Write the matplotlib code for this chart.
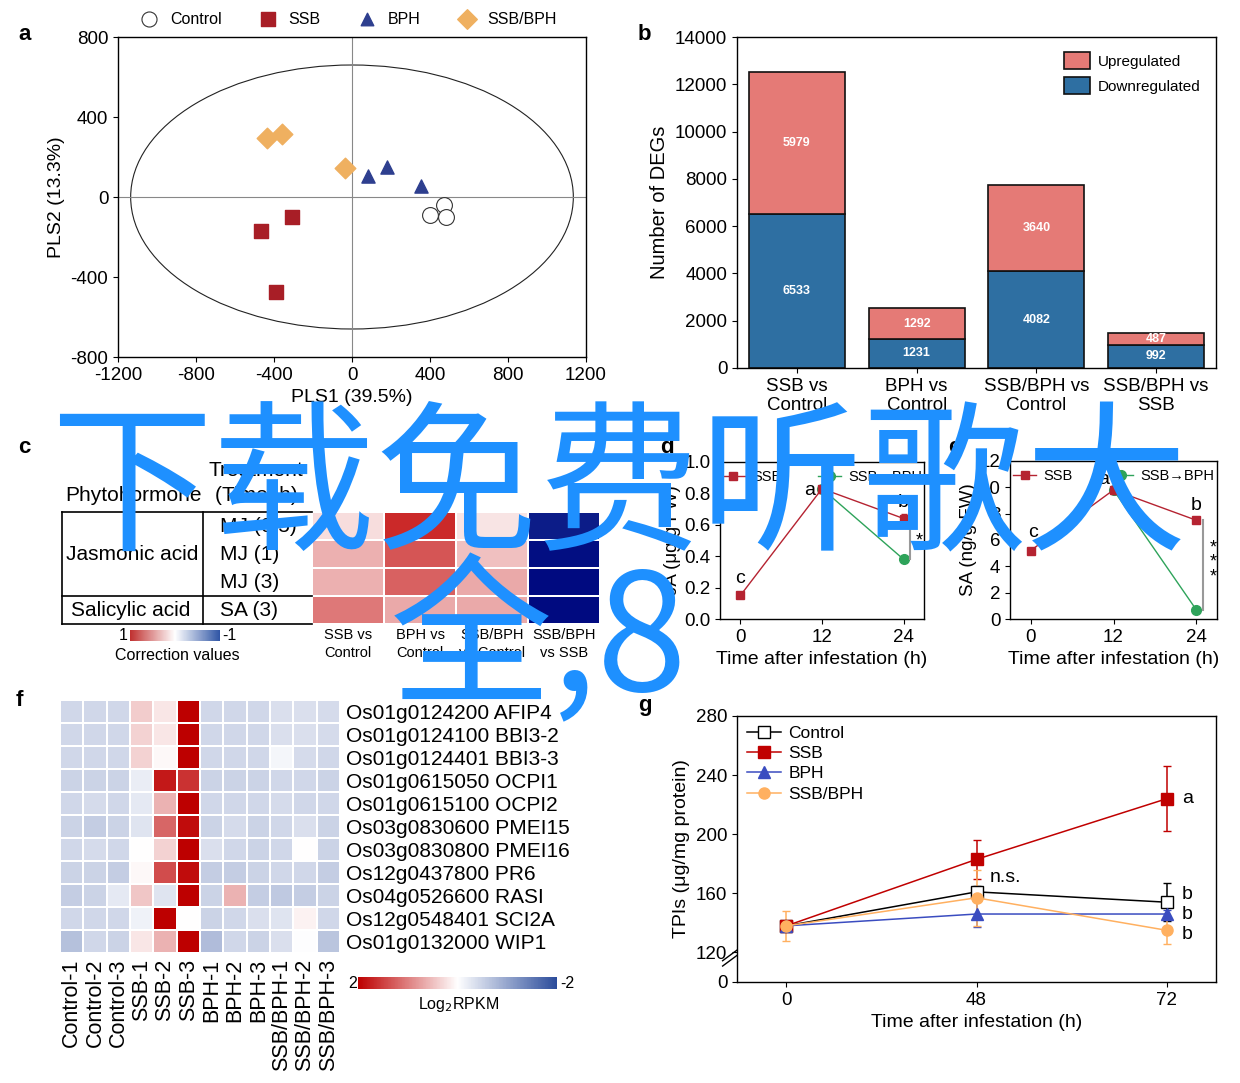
import numpy as np
import matplotlib
matplotlib.use("Agg")
import matplotlib.pyplot as plt
from matplotlib.colors import LinearSegmentedColormap, Normalize
from matplotlib.cm import ScalarMappable
from matplotlib.patches import Ellipse
from matplotlib.lines import Line2D

plt.rcParams['font.family'] = ['Liberation Sans', 'DejaVu Sans']
plt.rcParams['axes.linewidth'] = 1.0
plt.rcParams['axes.unicode_minus'] = False

W, H = 1240, 1083

# ---------------- data ----------------
# a: PLS scores
ctrl_x, ctrl_y = [472, 400, 482], [-40, -90, -100]
ssb_x, ssb_y = [-308, -467, -390], [-100, -170, -475]
bph_x, bph_y = [82, 180, 354], [105, 150, 55]
sb_x, sb_y = [-436, -359, -36], [295, 315, 145]
ell_w, ell_h = 2270, 1320

# b: DEGs
comparisons = ["SSB vs\nControl", "BPH vs\nControl", "SSB/BPH vs\nControl", "SSB/BPH vs\nSSB"]
deg_down = [6533, 1231, 4082, 992]
deg_up = [5979, 1292, 3640, 487]

# c: phytohormone correction values
c_cols = ["SSB vs\nControl", "BPH vs\nControl", "SSB/BPH\nvs Control", "SSB/BPH\nvs SSB"]
c_rows = ["MJ (0.5)", "MJ (1)", "MJ (3)", "SA (3)"]
c_vals = [[0.15, 0.95, 0.12, -0.92],
          [0.35, 0.75, 0.28, -0.98],
          [0.35, 0.70, 0.38, -1.00],
          [0.60, 0.38, 0.38, -1.00]]

# d, e: JA and SA
t_h = [0, 12, 24]
t_h2 = [12, 24]
ja_ssb = [0.15, 0.83, 0.64]
ja_ssb_err = [0, 0, 0.03]
ja_ssbbph = [0.83, 0.38]
sa_ssb = [5.2, 9.8, 7.5]
sa_ssb_err = [0, 0.3, 0]
sa_ssbbph = [9.8, 0.7]

# f: heatmap
samples = ["Control-1", "Control-2", "Control-3", "SSB-1", "SSB-2", "SSB-3",
           "BPH-1", "BPH-2", "BPH-3", "SSB/BPH-1", "SSB/BPH-2", "SSB/BPH-3"]
genes = ["Os01g0124200 AFIP4", "Os01g0124100 BBI3-2", "Os01g0124401 BBI3-3",
         "Os01g0615050 OCPI1", "Os01g0615100 OCPI2", "Os03g0830600 PMEI15",
         "Os03g0830800 PMEI16", "Os12g0437800 PR6", "Os04g0526600 RASI",
         "Os12g0548401 SCI2A", "Os01g0132000 WIP1"]
rpkm = [[-0.45, -0.45, -0.45, 0.40, 0.20, 2.0, -0.45, -0.45, -0.45, -0.35, -0.35, -0.40],
        [-0.45, -0.45, -0.45, 0.35, 0.20, 2.0, -0.45, -0.45, -0.45, -0.35, -0.35, -0.40],
        [-0.45, -0.45, -0.45, 0.35, 0.05, 2.0, -0.45, -0.45, -0.45, -0.10, -0.40, -0.45],
        [-0.50, -0.50, -0.50, -0.20, 1.80, 1.6, -0.50, -0.50, -0.50, -0.45, -0.45, -0.50],
        [-0.45, -0.40, -0.45, -0.25, 0.60, 2.0, -0.45, -0.45, -0.45, -0.40, -0.45, -0.45],
        [-0.50, -0.55, -0.50, -0.30, 1.20, 1.9, -0.50, -0.40, -0.50, -0.45, -0.35, -0.50],
        [-0.45, -0.40, -0.45, 0.00, 0.35, 2.0, -0.35, -0.45, -0.50, -0.45, 0.00, -0.50],
        [-0.50, -0.50, -0.55, 0.05, 1.40, 1.9, -0.55, -0.55, -0.50, -0.45, -0.45, -0.55],
        [-0.55, -0.50, -0.25, 0.45, -0.30, 2.0, -0.50, 0.60, -0.55, -0.60, -0.55, -0.50],
        [-0.45, -0.45, -0.45, -0.15, 2.00, 0.0, -0.50, -0.45, -0.35, -0.30, 0.10, -0.45],
        [-0.70, -0.45, -0.50, 0.20, 0.60, 2.0, -0.75, -0.45, -0.50, -0.35, -0.02, -0.65]]

# g: TPIs
g_ticks = ["0", "48", "72"]
tpi_ctrl, tpi_ctrl_err = [138, 161, 154], [0, 4, 13]
tpi_ssb, tpi_ssb_err = [138, 183, 224], [0, 13, 22]
tpi_bph, tpi_bph_err = [138, 146, 146], [0, 9, 3]
tpi_sb, tpi_sb_err = [138, 157, 135], [10, 19, 9]

# ---------------- layout helpers ----------------
fig = plt.figure(figsize=(W / 100, H / 100), dpi=100)


def ax_px(l, t, r, b):
    return fig.add_axes([l / W, 1 - b / H, (r - l) / W, (b - t) / H])


def ftext(x, y, s, **kw):
    fig.text(x / W, 1 - y / H, s, **kw)


for lab, (x, y) in zip("abcdefg", [(18, 35), (638, 35), (18, 447), (660, 447),
                                    (948, 447), (16, 700), (638, 706)]):
    ftext(x, y, lab, fontsize=16, fontweight='bold', va='center')

# ---------------- a ----------------
ax = ax_px(118, 37, 586, 357)
ax.axhline(0, color='#888888', lw=0.8)
ax.axvline(0, color='#888888', lw=0.8)
ax.add_patch(Ellipse((0, 0), ell_w, ell_h, fill=False, ec='#222222', lw=0.8))
h1 = ax.scatter(ctrl_x, ctrl_y, s=130, marker='o', facecolor='white', edgecolor='#333333', lw=0.8, zorder=3)
h2 = ax.scatter(ssb_x, ssb_y, s=110, marker='s', color='#A81E26', zorder=3)
h3 = ax.scatter(bph_x, bph_y, s=90, marker='^', color='#2E3F8F', zorder=3)
h4 = ax.scatter(sb_x, sb_y, s=110, marker='D', color='#EFB060', zorder=3)
ax.set_xlim(-1200, 1200)
ax.set_ylim(-800, 800)
ax.set_xticks([-1200, -800, -400, 0, 400, 800, 1200])
ax.set_yticks([-800, -400, 0, 400, 800])
ax.tick_params(labelsize=13.5, direction='out')
ax.set_xlabel("PLS1 (39.5%)", fontsize=14)
ax.set_ylabel("PLS2 (13.3%)", fontsize=14)
fig.legend([h1, h2, h3, h4], ["Control", "SSB", "BPH", "SSB/BPH"], loc='center',
           bbox_to_anchor=(345 / W, 1 - 19 / H), ncol=4, frameon=False, fontsize=11.5,
           handletextpad=0.3, columnspacing=1.9, markerscale=0.95)

# ---------------- b ----------------
ax = ax_px(737, 37, 1216, 368)
xb = np.arange(len(comparisons))
bd = ax.bar(xb, deg_down, width=0.8, color='#2E6FA2', edgecolor='#111111', lw=1.2, label='Downregulated')
bu = ax.bar(xb, deg_up, bottom=deg_down, width=0.8, color='#E57A76', edgecolor='#111111', lw=1.2, label='Upregulated')
for i in range(len(xb)):
    ax.text(xb[i], deg_down[i] / 2, str(deg_down[i]), color='white', fontsize=9, fontweight='bold', ha='center', va='center')
    ax.text(xb[i], deg_down[i] + deg_up[i] / 2, str(deg_up[i]), color='white', fontsize=9, fontweight='bold', ha='center', va='center')
ax.set_xlim(-0.5, 3.5)
ax.set_ylim(0, 14000)
ax.set_yticks(range(0, 14001, 2000))
ax.set_xticks(xb)
ax.set_xticklabels(comparisons)
ax.tick_params(labelsize=13.5)
ax.set_ylabel("Number of DEGs", fontsize=14.5)
ax.legend([bu, bd], ["Upregulated", "Downregulated"], loc='upper right', frameon=False,
          fontsize=11, handlelength=1.7, handleheight=1.3, labelspacing=0.55,
          borderaxespad=0.6, handletextpad=0.5)

# ---------------- c ----------------
c_cmap = LinearSegmentedColormap.from_list('c', [(0, '#000A80'), (0.15, '#2F4FA0'), (0.5, '#FFFFFF'), (1, '#C81E1E')])
ax = ax_px(312, 512, 600, 624)
ax.pcolormesh(np.array(c_vals), cmap=c_cmap, vmin=-1, vmax=1, edgecolors='white', linewidth=1.2)
ax.set_ylim(4, 0)
ax.set_xlim(0, 4)
ax.set_xticks(np.arange(4) + 0.5)
ax.set_xticklabels(c_cols, fontsize=10.5, linespacing=1.35)
ax.set_yticks([])
ax.tick_params(length=0, pad=3)
for s in ax.spines.values():
    s.set_visible(False)

tb = ax_px(62, 512, 312, 624)
tb.set_xlim(0, 250)
tb.set_ylim(4, 0)
tb.axis('off')
tb.plot([0, 250], [0, 0], color='black', lw=1.2, clip_on=False)
tb.plot([0, 250], [3, 3], color='black', lw=1.2, clip_on=False)
tb.plot([0, 250], [4, 4], color='black', lw=1.2, clip_on=False)
tb.plot([0, 0], [0, 4], color='black', lw=1.2, clip_on=False)
tb.plot([141, 141], [0, 4], color='black', lw=1.2, clip_on=False)
tb.text(70, 1.5, "Jasmonic acid", fontsize=15, ha='center', va='center')
tb.text(69, 3.5, "Salicylic acid", fontsize=15, ha='center', va='center')
for i, r in enumerate(c_rows):
    tb.text(158, i + 0.5, r, fontsize=15, ha='left', va='center')
ftext(65, 495, "Phytohormone", fontsize=15, ha='left', va='center')
ftext(256, 470, "Treatment", fontsize=15, ha='center', va='center')
ftext(256, 495, "(Time, h)", fontsize=15, ha='center', va='center')

cax = ax_px(130, 630, 220, 641)
cb = fig.colorbar(ScalarMappable(Normalize(-1, 1), LinearSegmentedColormap.from_list('cb', ['#2F55A5', '#FFFFFF', '#C0302F'])),
                  cax=cax, orientation='horizontal')
cax.invert_xaxis()
cb.set_ticks([])
cb.outline.set_visible(False)
ftext(123, 635, "1", fontsize=11.5, ha='center', va='center')
ftext(229, 635, "-1", fontsize=11.5, ha='center', va='center')
ftext(177, 656, "Correction values", fontsize=11.5, ha='center', va='center')

# ---------------- d ----------------
RED, GREEN = '#B52331', '#2EA35A'


def time_panel(ax, y1, y1e, y2, ylim, yticks, fmt, ylabel):
    ax.errorbar(t_h, y1, yerr=y1e, color=RED, marker='s', ms=6, lw=1, capsize=2.5, zorder=3)
    ax.plot(t_h2, y2, color=GREEN, marker='o', ms=7, lw=1, zorder=2)
    ax.set_xlim(-3, 27)
    ax.set_ylim(*ylim)
    ax.set_xticks(t_h)
    ax.set_yticks(yticks)
    ax.set_yticklabels([fmt.format(v) for v in yticks])
    ax.tick_params(labelsize=13.5)
    ax.set_xlabel("Time after infestation (h)", fontsize=14)
    ax.set_ylabel(ylabel, fontsize=13.5, labelpad=2)
    hs = [Line2D([], [], color=RED, marker='s', ms=6, lw=1),
          Line2D([], [], color=GREEN, marker='o', ms=7, lw=1)]
    ax.legend(hs, ['SSB', 'SSB\u2192BPH'], loc='upper center', bbox_to_anchor=(0.5, 1.03), ncol=2,
              frameon=False, fontsize=10.5, handlelength=1.6, columnspacing=2.5, handletextpad=0.5)


ax = ax_px(720, 462, 924, 619)
time_panel(ax, ja_ssb, ja_ssb_err, ja_ssbbph, (0, 1.0), [0, 0.2, 0.4, 0.6, 0.8, 1.0], "{:.1f}", "JA (\u03bcg/g FW)")
ax.plot([25, 25], [ja_ssbbph[1], ja_ssb[2]], color='#999999', lw=1.5)
ax.text(25.8, 0.5, "*", fontsize=13, ha='left', va='center')
ax.text(0, 0.26, "c", fontsize=14, ha='center', va='center')
ax.text(10.2, 0.82, "a", fontsize=14, ha='center', va='center')
ax.text(24, 0.74, "b", fontsize=14, ha='center', va='center')

# ---------------- e ----------------
ax = ax_px(1010, 461, 1217, 619)
time_panel(ax, sa_ssb, sa_ssb_err, sa_ssbbph, (0, 12), [0, 2, 4, 6, 8, 10, 12], "{:d}", "SA (ng/g FW)")
ax.plot([25, 25], [sa_ssbbph[1], sa_ssb[2]], color='#999999', lw=1.5)
for yy in [5.4, 4.3, 3.2]:
    ax.text(26.0, yy, "*", fontsize=13, ha='left', va='center')
ax.text(0.3, 6.6, "c", fontsize=14, ha='center', va='center')
ax.text(10.5, 10.6, "a", fontsize=14, ha='center', va='center')
ax.text(24, 8.6, "b", fontsize=14, ha='center', va='center')

# ---------------- f ----------------
f_cmap = LinearSegmentedColormap.from_list('f', ['#2B4C9B', '#FFFFFF', '#BD0000'])
ax = ax_px(60, 700, 340, 953)
ax.pcolormesh(np.array(rpkm), cmap=f_cmap, vmin=-2, vmax=2, edgecolors='white', linewidth=1.2)
ax.set_xlim(0, len(samples))
ax.set_ylim(len(genes), 0)
ax.set_xticks(np.arange(len(samples)) + 0.5)
ax.set_xticklabels(samples, rotation=90, fontsize=15.5)
ax.set_yticks(np.arange(len(genes)) + 0.5)
ax.set_yticklabels(genes, fontsize=15)
ax.yaxis.tick_right()
ax.tick_params(length=0, pad=4)
for s in ax.spines.values():
    s.set_visible(False)

cax = ax_px(358, 977, 557, 989)
cb = fig.colorbar(ScalarMappable(Normalize(-2, 2), f_cmap), cax=cax, orientation='horizontal')
cax.invert_xaxis()
cb.set_ticks([])
cb.outline.set_visible(False)
ftext(353, 984, "2", fontsize=11.5, ha='center', va='center')
ftext(567, 984, "-2", fontsize=11.5, ha='center', va='center')
ftext(459, 1005, "Log$_2$RPKM", fontsize=11.5, ha='center', va='center')

# ---------------- g ----------------
def fwd(y):
    y = np.asarray(y, dtype=float)
    return np.where(y >= 120, y, 100 + y * 20 / 120)


def inv(t):
    t = np.asarray(t, dtype=float)
    return np.where(t >= 120, t, (t - 100) * 6)


ax = ax_px(737, 716, 1216, 982)
ax.set_yscale('function', functions=(fwd, inv))
xg = np.arange(len(g_ticks))
series = [(tpi_ctrl, tpi_ctrl_err, 'black', 's', 'white', 'Control'),
          (tpi_ssb, tpi_ssb_err, '#C00000', 's', '#C00000', 'SSB'),
          (tpi_bph, tpi_bph_err, '#3A4CC0', '^', '#3A4CC0', 'BPH'),
          (tpi_sb, tpi_sb_err, '#FFB060', 'o', '#FFB060', 'SSB/BPH')]
g_handles = []
for vals, err, col, mk, mfc, lab in series:
    ax.errorbar(xg, vals, yerr=err, color=col, marker=mk, mfc=mfc, mec=col, ms=8, lw=1.1,
                capsize=3, elinewidth=1.1)
    g_handles.append(Line2D([], [], color=col, marker=mk, mfc=mfc, mec=col, ms=8, lw=1.1))
ax.set_xlim(-0.26, 2.26)
ax.set_ylim(0, 280)
ax.set_xticks(xg)
ax.set_xticklabels(g_ticks)
ax.set_yticks([0, 120, 160, 200, 240, 280])
ax.set_yticklabels(["0", "120", "160", "200", "240", "280"])
ax.tick_params(labelsize=13.5)
ax.set_xlabel("Time after infestation (h)", fontsize=14)
ax.set_ylabel("TPIs (\u03bcg/mg protein)", fontsize=14)
ax.legend(g_handles, [s[-1] for s in series], loc='upper left', frameon=False, fontsize=12.5,
          handlelength=2.0, handletextpad=0.4, labelspacing=0.3, borderaxespad=0.15)
ax.text(2.08, 224, "a", fontsize=14, ha='left', va='center')
for yy in [159, 146, 132]:
    ax.text(2.08, yy, "b", fontsize=14, ha='left', va='center')
ax.text(1.07, 171, "n.s.", fontsize=14, ha='left', va='center')
# axis break mark
ax.plot([-0.03, 0.0], [0.08, 0.12], transform=ax.transAxes, color='black', lw=1, clip_on=False)
ax.plot([-0.03, 0.0], [0.06, 0.10], transform=ax.transAxes, color='black', lw=1, clip_on=False)

# ---------------- watermark ----------------
wm = ['Noto Sans CJK SC', 'DejaVu Sans']
ftext(50, 492, "下载免费听歌大", fontsize=117, color='#1E90FF', family=wm, fontweight='medium',
      ha='left', va='center', zorder=10)
ftext(390, 644, "全,8", fontsize=117, color='#1E90FF', family=wm, fontweight='medium',
      ha='left', va='center', zorder=10)

fig.savefig("out.png", dpi=100)
